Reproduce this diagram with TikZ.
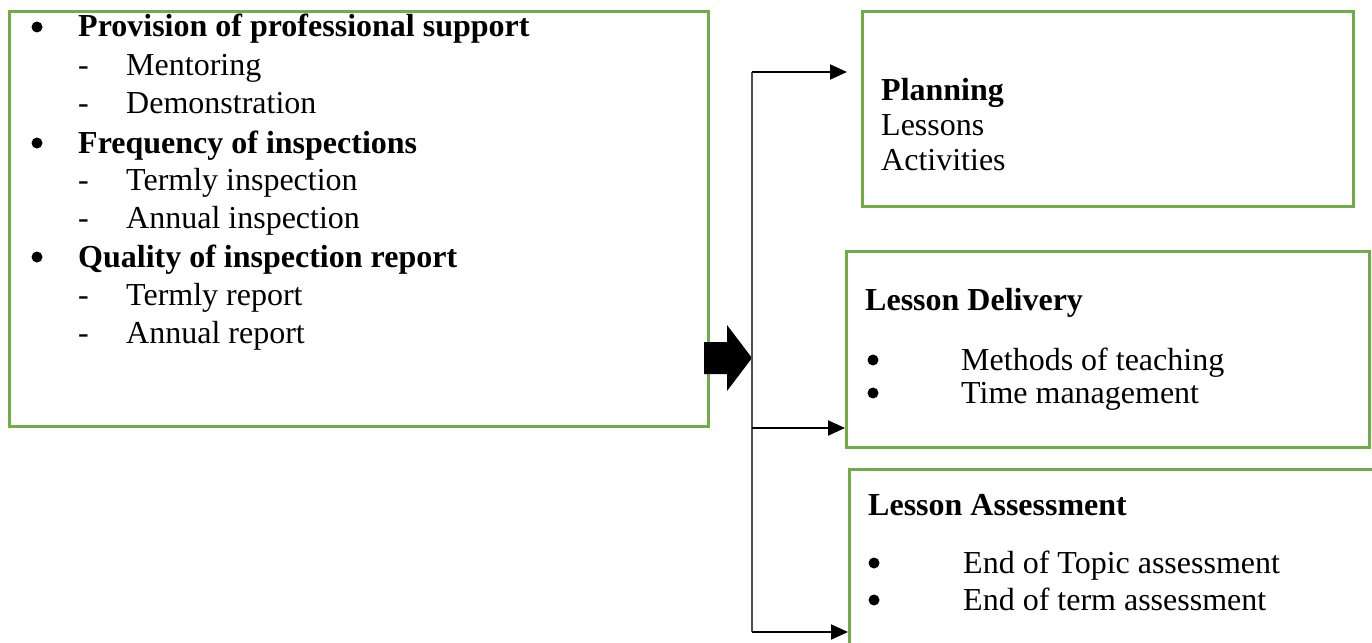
\documentclass[tikz,border=0pt]{standalone}
\usepackage{fontspec}
\setmainfont{Liberation Serif}
\usepackage{tikz}
\usetikzlibrary{positioning,arrows.meta}
\definecolor{boxgreen}{RGB}{112,173,71}
\definecolor{spinegray}{RGB}{80,80,80}
\tikzset{
	greenbox/.style={draw=boxgreen, line width=3pt, inner sep=0, anchor=north west},
	txt/.style={anchor=base west, inner sep=0, font=\fontsize{32}{36}\selectfont},
	headtxt/.style={anchor=base west, inner sep=0, font=\fontsize{32}{36}\selectfont\bfseries},
	dot/.style={circle, fill, inner sep=0, minimum size=11pt},
	link/.style={line width=2pt, -{Triangle[length=17pt,width=15pt]}},
}

\begin{document}
\begin{tikzpicture}[x=1pt, y=-1pt]
	\useasboundingbox (0,0) rectangle (1372,642);
	% boxes
	\node[greenbox, minimum width=699pt, minimum height=415pt] at (8,10) (main) {};
	\node[greenbox, minimum width=491pt, minimum height=195pt] at (861,10) (plan) {};
	\node[greenbox, minimum width=523pt, minimum height=196pt] at (845,250) (deliv) {};
	\node[greenbox, minimum width=524pt, minimum height=190pt] at (848,468) (assess) {};
	% left box
	\foreach \y/\t/\n in {37/Provision of professional support/1, 153/Frequency of inspections/2, 267/Quality of inspection report/3} {
		\node[dot] at (37,\y-10) (mb\n) {};
		\node[headtxt] at (78,\y) (mh\n) {\t};
	};
	\foreach \y/\t/\n in {75/Mentoring/1, 113/Demonstration/2, 190/Termly inspection/3, 228/Annual inspection/4, 305/Termly report/5, 343/Annual report/6} {
		\node[txt] at (78,\y) (md\n) {-};
		\node[txt] at (126,\y) (ms\n) {\t};
	};
	% planning
	\node[headtxt] at (881,100) (planh) {Planning};
	\node[txt] at (881,135) (plan1) {Lessons};
	\node[txt] at (881,170) (plan2) {Activities};
	% delivery
	\node[headtxt] at (865,310) (delivh) {Lesson Delivery};
	\foreach \y/\t/\n in {370/Methods of teaching/1, 403/Time management/2} {
		\node[dot] at (873,\y-10) (db\n) {};
		\node[txt] at (961,\y) (dt\n) {\t};
	};
	% assessment
	\node[headtxt] at (868,515) (assessh) {Lesson Assessment};
	\foreach \y/\t/\n in {573/End of Topic assessment/1, 610/End of term assessment/2} {
		\node[dot] at (874,\y-10) (ab\n) {};
		\node[txt] at (963,\y) (at\n) {\t};
	};
	% block arrow
	\fill (704,342) -- (727,342) -- (727,325) -- (752,358) -- (727,391) -- (727,374) -- (704,374) -- cycle;
	% spine and links
	\coordinate (j1) at (752,72);
	\coordinate (j2) at (752,428);
	\coordinate (j3) at (752,632);
	\draw[spinegray, line width=2pt] (j1) -- (j3);
	\draw[link, shorten >=14pt] (j1) -- (j1 -| plan.west);
	\draw[link] (j2) -- (j2 -| deliv.west);
	\draw[link] (j3) -- (j3 -| assess.west);
\end{tikzpicture}
\end{document}
